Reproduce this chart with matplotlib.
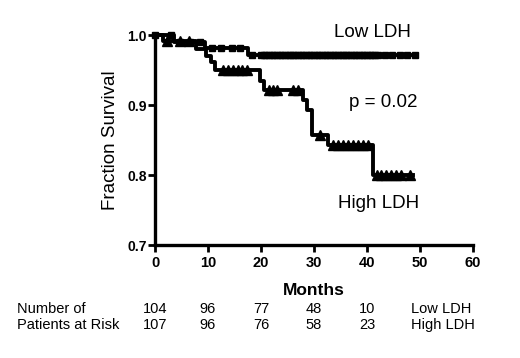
import numpy as np
import matplotlib
matplotlib.use("Agg")
import matplotlib.pyplot as plt
import matplotlib.transforms as mtransforms

plt.rcParams['font.family'] = ['Liberation Sans', 'DejaVu Sans']

# Kaplan-Meier step data (time in months, fraction surviving)
low_t = [0, 3.5, 9.5, 17.5, 49.5]
low_s = [1.0, 0.990, 0.981, 0.971, 0.971]
high_t = [0, 1.5, 7.8, 9.6, 10.5, 11.3, 19.8, 20.5, 27.9, 28.7, 29.6, 32.6, 41.2, 48.6]
high_s = [1.0, 0.991, 0.980, 0.970, 0.961, 0.950, 0.935, 0.921, 0.907, 0.893, 0.857, 0.843, 0.800, 0.800]

# censoring times
low_cens = [0, 3.1, 4.7, 6.6, 8.5, 10.7, 12.5, 14.5, 16.0, 18.3,
            20.0, 20.5, 21.0, 21.5, 22.0, 22.5, 23.0, 23.5, 24.0, 24.5,
            25.0, 25.5, 26.0, 26.5, 27.0, 27.5, 28.0, 28.5, 29.0, 29.5,
            30.0, 30.5, 31.0, 31.5, 32.0, 32.5, 33.0, 33.5, 34.0, 34.5,
            35.0, 35.5, 36.0, 36.5, 37.0, 37.5, 38.0, 38.5, 39.0, 39.5,
            40.0, 40.5, 41.0, 41.5, 42.0, 43.4, 44.8, 46.2, 47.6, 49.0]
high_cens = [2.2, 4.7, 6.5, 12.8, 13.8, 14.8, 15.6, 16.5, 17.4,
             21.6, 22.3, 23.0, 26.1, 27.0, 31.1,
             33.6, 34.5, 35.4, 36.4, 37.3, 38.3, 39.2, 40.2,
             41.8, 42.7, 43.6, 44.6, 45.5, 46.5, 48.1]

risk_times = [0, 10, 20, 30, 40]
risk_low = [104, 96, 77, 48, 10]
risk_high = [107, 96, 76, 58, 23]

x_ticks = [0, 10, 20, 30, 40, 50, 60]
y_ticks = [0.7, 0.8, 0.9, 1.0]


def surv_at(times, surv, t):
    idx = np.searchsorted(np.asarray(times), t, side='right') - 1
    return np.asarray(surv)[idx]


fig = plt.figure(figsize=(5.2, 3.58), dpi=100)
ax = fig.add_axes([155 / 520, 1 - 245 / 358, 318 / 520, 210 / 358])

ax.step(low_t, low_s, where='post', color='black', lw=2.8, clip_on=False, zorder=3)
ax.step(high_t, high_s, where='post', color='black', lw=2.8, clip_on=False, zorder=3)
ax.plot(low_cens, surv_at(low_t, low_s, low_cens), ls='none', marker='s',
        ms=4.6, color='black', clip_on=False, zorder=4)
ax.plot(high_cens, surv_at(high_t, high_s, high_cens), ls='none', marker='^',
        ms=6.5, color='black', clip_on=False, zorder=4)

ax.set_xlim(0, 60)
ax.set_ylim(0.7, 1.0)
ax.set_xticks(x_ticks)
ax.set_yticks(y_ticks)
ax.set_yticklabels([f"{v:.1f}" for v in y_ticks])
for s in ['top', 'right']:
    ax.spines[s].set_visible(False)
for s in ['left', 'bottom']:
    ax.spines[s].set_linewidth(2.4)
ax.tick_params(direction='out', length=5, width=2)
ax.tick_params(axis='x', pad=3)
ax.tick_params(axis='y', pad=1)
for lab in ax.get_xticklabels():
    lab.set_fontsize(10.5)
    lab.set_fontweight('bold')
for lab in ax.get_yticklabels():
    lab.set_fontsize(10)
    lab.set_fontweight('bold')

ax.set_xlabel('Months', fontsize=12.5, fontweight='bold', labelpad=9)
ax.set_ylabel('Fraction Survival', fontsize=13.5, labelpad=6)

ax.text(41.0, 0.997, 'Low LDH', fontsize=13.5, ha='center', va='baseline')
ax.text(43.1, 0.897, 'p = 0.02', fontsize=13.5, ha='center', va='baseline')
ax.text(42.1, 0.753, 'High LDH', fontsize=13.5, ha='center', va='baseline')

trans = mtransforms.blended_transform_factory(ax.transData, fig.transFigure)
y1 = 1 - 313.3 / 358
y2 = 1 - 329.3 / 358
fig.text(17 / 520, y1, 'Number of', fontsize=10.5, va='baseline')
fig.text(17 / 520, y2, 'Patients at Risk', fontsize=10.5, va='baseline')
for t, a, b in zip(risk_times, risk_low, risk_high):
    ax.text(t, y1, str(a), transform=trans, fontsize=10.5, ha='center', va='baseline')
    ax.text(t, y2, str(b), transform=trans, fontsize=10.5, ha='center', va='baseline')
ax.text(48.3, y1, 'Low LDH', transform=trans, fontsize=10.5, ha='left', va='baseline')
ax.text(48.3, y2, 'High LDH', transform=trans, fontsize=10.5, ha='left', va='baseline')

fig.savefig('out.png', dpi=100)
